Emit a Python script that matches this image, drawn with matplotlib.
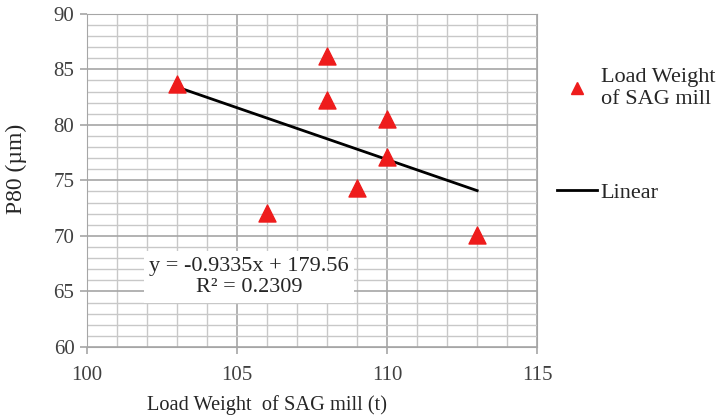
import numpy as np
import matplotlib
matplotlib.use("Agg")
from matplotlib import pyplot as plt
from matplotlib.lines import Line2D

plt.rcParams['font.family'] = ['Liberation Serif', 'DejaVu Serif']

# data
load_weight = [103, 108, 108, 110, 110, 109, 106, 113]
p80 = [83.7, 86.2, 82.2, 80.5, 77.1, 74.3, 72.1, 70.1]
slope = -0.9335
intercept = 179.56
r2 = 0.2309

fig = plt.figure(figsize=(7.24, 4.18), dpi=100)
ax = fig.add_axes([0.120, 0.170, 0.622, 0.797])

ax.set_xlim(100, 115)
ax.set_ylim(60, 90)
ax.set_xticks([100, 105, 110, 115])
ax.set_yticks(range(60, 91, 5))
ax.set_xticks(range(100, 116), minor=True)
ax.set_yticks(range(60, 91), minor=True)
ax.grid(which='major', color='#a6a6a6', lw=1.2)
ax.grid(which='minor', color='#c8c8c8', lw=1.0)
ax.set_axisbelow(True)
ax.tick_params(which='major', length=5, width=1.2, color='#a6a6a6',
               labelsize=15, labelcolor='#404040', pad=4)
ax.tick_params(axis='x', pad=9)
ax.tick_params(which='minor', length=0)
for s in ax.spines.values():
    s.set_color('#a6a6a6')

ax.scatter(load_weight, p80, marker='^', s=150, color='#ee1c1c', zorder=3)

xs = np.array([min(load_weight), max(load_weight)])
ax.plot(xs, slope * xs + intercept, color='black', lw=2, zorder=2)

ax.text(105.4, 66.3, f"y = {slope}x + {intercept}\nR\u00b2 = {r2}", ha='center', va='center',
        fontsize=16, linespacing=1.2, color='#262626',
        bbox=dict(facecolor='white', edgecolor='none', pad=4))

ax.set_xlabel('Load Weight  of SAG mill (t)', fontsize=14.7, color='#262626')
ax.xaxis.set_label_coords(0.40, -0.145)
ax.set_ylabel('P80 (\u00b5m)', fontsize=17, color='#262626')
ax.yaxis.set_label_coords(-0.132, 0.535)

handles = [Line2D([], [], marker='^', color='#ee1c1c', ls='none', markersize=9),
           Line2D([], [], color='black', lw=2)]
fig.legend(handles, ['Load Weight\nof SAG mill', 'Linear'], loc='upper left',
           bbox_to_anchor=(0.742, 0.885), frameon=False, fontsize=16,
           labelcolor='#262626', labelspacing=3.3, handlelength=1.8, handletextpad=0.15)

fig.savefig('out.png', dpi=100)
